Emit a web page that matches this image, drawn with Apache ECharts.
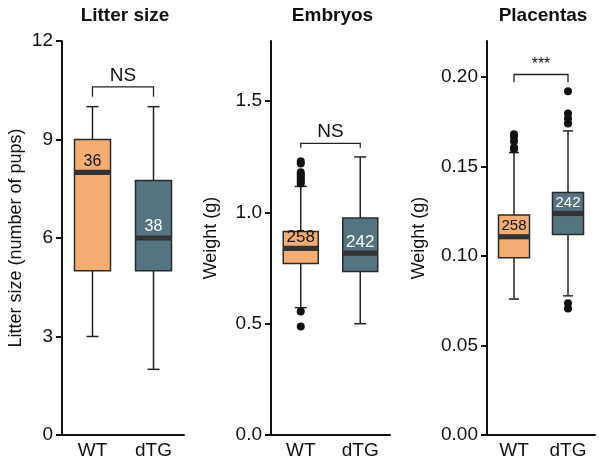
<!DOCTYPE html>
<html>
<head>
<meta charset="utf-8">
<script src="https://cdn.jsdelivr.net/npm/echarts@6/dist/echarts.min.js"></script>
<style>
  html, body { margin: 0; padding: 0; background: #fff; }
  #chart { width: 600px; height: 460px; }
</style>
</head>
<body>
<div id="chart"></div>
<script>
const groups = ['WT', 'dTG'];
const titles = ['Litter size', 'Embryos', 'Placentas'];
const yNames = ['Litter size (number of pups)', 'Weight (g)', 'Weight (g)'];

// box stats per group: [lower whisker, Q1, median, Q3, upper whisker]
const litterBox = [[3, 5, 8, 9, 10], [2, 5, 6, 7.75, 10]];
const embryoBox = [[0.572, 0.770, 0.838, 0.914, 1.117], [0.50, 0.734, 0.817, 0.975, 1.249]];
const placentaBox = [[0.0759, 0.0990, 0.1107, 0.1228, 0.1577], [0.0777, 0.1120, 0.1237, 0.1354, 0.1698]];

// sample sizes printed in the boxes
const litterN = [36, 38];
const embryoN = [258, 242];
const placentaN = [258, 242];

// outliers [group index, value]
const litterOut = [];
const embryoOut = [[0, 1.23], [0, 1.22], [0, 1.18], [0, 1.17], [0, 1.16], [0, 1.15], [0, 1.14], [0, 1.13], [0, 0.555], [0, 0.487]];
const placentaOut = [[0, 0.168], [0, 0.1665], [0, 0.164], [0, 0.1605], [0, 0.1595],
  [1, 0.192], [1, 0.1795], [1, 0.1767], [1, 0.174], [1, 0.0735], [1, 0.0707]];

// significance bracket: [bar height, tail end], label
const brackets = [[10.6, 10.3], [1.31, 1.29], [0.2013, 0.197]];
const sigText = ['NS', 'NS', '***'];

// y axis ranges and ticks
const yMax = [12, 1.77, 0.22];
const yTicks = [[0, 3, 6, 9, 12], [0, 0.5, 1.0, 1.5], [0, 0.05, 0.10, 0.15, 0.20]];
const yDigits = [0, 1, 2];

const fillColors = ['#F4AE73', '#557481'];
const textColors = ['#111', '#fff'];
const FONT = 'Liberation Sans, Arial, sans-serif';

// layout of the three panels
const panels = [
  { left: 62, width: 122, boxW: 36, capW: 12, nFont: 16, nameGap: 37 },
  { left: 271, width: 119, boxW: 35, capW: 12, nFont: 17, nameGap: 51 },
  { left: 487, width: 108, boxW: 31, capW: 10, nFont: 15, nameGap: 59 }
];
const boxes = [litterBox, embryoBox, placentaBox];
const counts = [litterN, embryoN, placentaN];
const outliers = [litterOut, embryoOut, placentaOut];

function boxRender(p) {
  return function (params, api) {
    const i = api.value(0);
    const lo = api.coord([i, api.value(1)]);
    const q1 = api.coord([i, api.value(2)]);
    const md = api.coord([i, api.value(3)]);
    const q3 = api.coord([i, api.value(4)]);
    const hi = api.coord([i, api.value(5)]);
    const cx = md[0];
    const line = { stroke: '#222', lineWidth: 1.5 };
    return {
      type: 'group',
      children: [
        { type: 'line', shape: { x1: cx, y1: hi[1], x2: cx, y2: q3[1] }, style: line },
        { type: 'line', shape: { x1: cx - p.capW / 2, y1: hi[1], x2: cx + p.capW / 2, y2: hi[1] }, style: line },
        { type: 'line', shape: { x1: cx, y1: q1[1], x2: cx, y2: lo[1] }, style: line },
        { type: 'line', shape: { x1: cx - p.capW / 2, y1: lo[1], x2: cx + p.capW / 2, y2: lo[1] }, style: line },
        { type: 'rect', shape: { x: cx - p.boxW / 2, y: q3[1], width: p.boxW, height: q1[1] - q3[1] },
          style: { fill: fillColors[i], stroke: '#2b2b2b', lineWidth: 1.5 } },
        { type: 'rect', shape: { x: cx - p.boxW / 2, y: md[1] - 2.6, width: p.boxW, height: 5.2 },
          style: { fill: '#333' } },
        { type: 'text', x: cx, y: md[1] - 11,
          style: { text: String(api.value(6)), fill: textColors[i], font: p.nFont + 'px ' + FONT,
            textAlign: 'center', textVerticalAlign: 'middle' } }
      ]
    };
  };
}

function bracketRender(k) {
  return function (params, api) {
    const a = api.coord([0, api.value(0)]);
    const b = api.coord([1, api.value(0)]);
    const t = api.coord([0, api.value(1)]);
    const star = sigText[k] === '***';
    return {
      type: 'group',
      children: [
        { type: 'polyline', shape: { points: [[a[0], t[1]], [a[0], a[1]], [b[0], b[1]], [b[0], t[1]]] },
          style: { stroke: '#222', lineWidth: 1.3, fill: null } },
        { type: 'text', x: (a[0] + b[0]) / 2, y: a[1] - (star ? 2 : 2),
          style: { text: sigText[k], fill: '#111', font: (star ? 16 : 19) + 'px ' + FONT,
            textAlign: 'center', textVerticalAlign: 'bottom' } }
      ]
    };
  };
}

const option = {
  backgroundColor: '#fff',
  animation: false,
  title: titles.map((t, k) => ({
    text: t, left: panels[k].left + panels[k].width / 2 - 3, top: 1, textAlign: 'center',
    textStyle: { fontFamily: FONT, fontWeight: 'bold', fontSize: 19, color: '#111' }
  })),
  grid: panels.map(p => ({ left: p.left, width: p.width, top: 41, bottom: 25 })),
  xAxis: panels.map((p, k) => ({
    type: 'category', gridIndex: k, data: groups,
    axisLine: { lineStyle: { color: '#111', width: 2 } },
    axisTick: { show: false },
    axisLabel: { color: '#111', fontSize: 19, fontFamily: FONT, margin: 6 }
  })),
  yAxis: panels.map((p, k) => ({
    type: 'value', gridIndex: k, min: 0, max: yMax[k],
    name: yNames[k], nameLocation: 'middle', nameGap: p.nameGap,
    nameTextStyle: { color: '#111', fontSize: 18, fontFamily: FONT },
    splitLine: { show: false },
    axisLine: { show: true, lineStyle: { color: '#111', width: 2 } },
    axisTick: { show: true, length: 6, lineStyle: { color: '#111', width: 2 }, customValues: yTicks[k] },
    axisLabel: { color: '#111', fontSize: 19, fontFamily: FONT, margin: 9, customValues: yTicks[k],
      formatter: v => Number(v).toFixed(yDigits[k]) }
  })),
  series: [].concat(
    panels.map((p, k) => ({
      type: 'custom', xAxisIndex: k, yAxisIndex: k,
      renderItem: boxRender(p),
      encode: { x: 0, y: [1, 2, 3, 4, 5] },
      data: boxes[k].map((b, i) => [i].concat(b, [counts[k][i]]))
    })),
    panels.map((p, k) => ({
      type: 'scatter', xAxisIndex: k, yAxisIndex: k,
      symbolSize: 8, itemStyle: { color: '#111', opacity: 1 },
      data: outliers[k]
    })),
    panels.map((p, k) => ({
      type: 'custom', xAxisIndex: k, yAxisIndex: k,
      renderItem: bracketRender(k),
      encode: { y: [0, 1] },
      data: [brackets[k]]
    }))
  )
};

echarts.init(document.getElementById('chart')).setOption(option);
</script>
</body>
</html>
